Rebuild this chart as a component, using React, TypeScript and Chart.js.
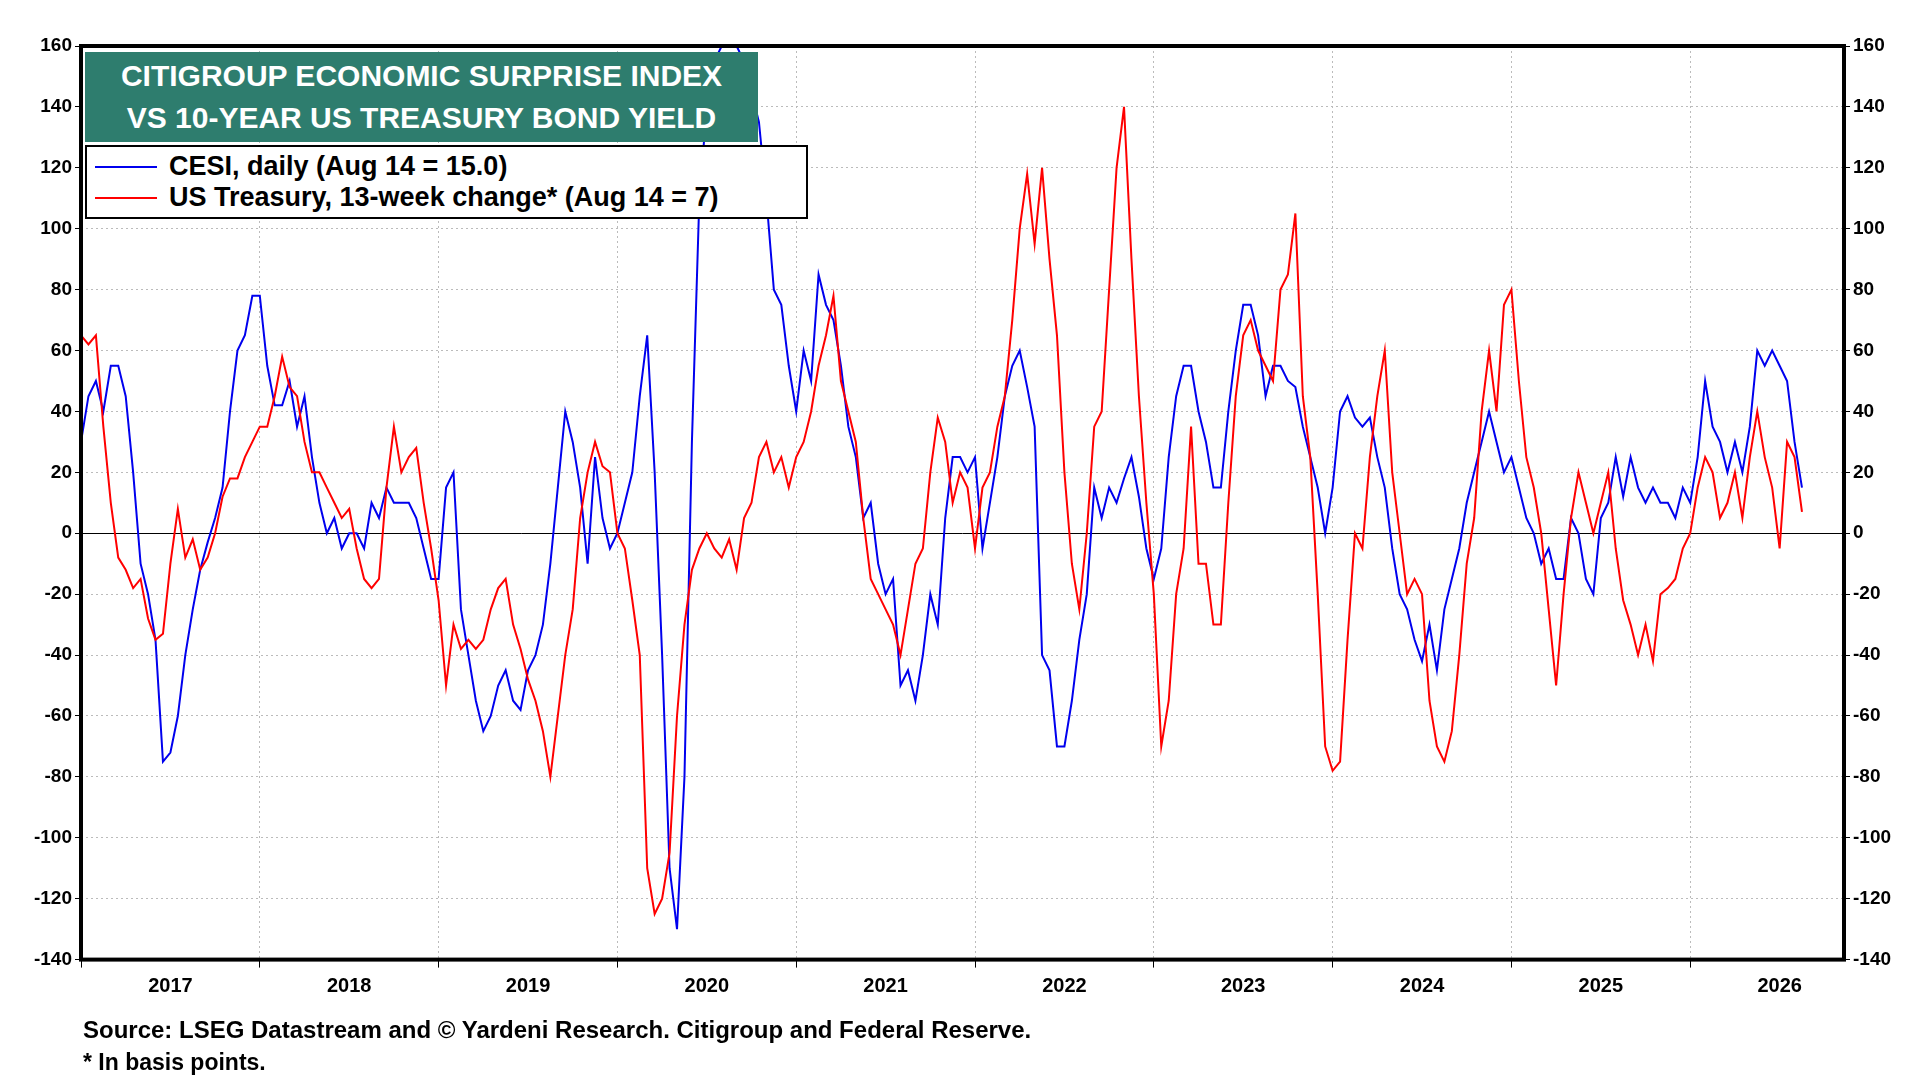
import React, { useEffect, useRef } from "react";
import { Chart, registerables } from "chart.js";
Chart.register(...registerables);

// Half-monthly observations starting Jan 2017
const START_YEAR = 2017;
const yearLabels = ["2017","2018","2019","2020","2021","2022","2023","2024","2025","2026"];
const cesi = [30,45,50,40,55,55,45,20,-10,-20,-35,-75,-72,-60,-40,-25,-12,-3,5,15,40,60,65,78,78,55,42,42,50,35,45,25,10,0,5,-5,0,0,-5,10,5,15,10,10,10,5,-5,-15,-15,15,20,-25,-40,-55,-65,-60,-50,-45,-55,-58,-45,-40,-30,-10,15,40,30,15,-10,25,5,-5,0,10,20,45,65,20,-40,-110,-130,-80,30,110,140,155,160,160,160,155,145,135,110,80,75,55,40,60,50,85,75,70,55,35,25,5,10,-10,-20,-15,-50,-45,-55,-40,-20,-30,5,25,25,20,25,-5,10,25,45,55,60,48,35,-40,-45,-70,-70,-55,-35,-20,15,5,15,10,18,25,12,-5,-15,-5,25,45,55,55,40,30,15,15,40,60,75,75,65,45,55,55,50,48,35,25,15,0,15,40,45,38,35,38,25,15,-5,-20,-25,-35,-42,-30,-45,-25,-15,-5,10,20,30,40,30,20,25,15,5,0,-10,-5,-15,-15,5,0,-15,-20,5,10,25,12,25,15,10,15,10,10,5,15,10,25,50,35,30,20,30,20,35,60,55,60,55,50,30,15];
const treasury = [65,62,65,35,10,-8,-12,-18,-15,-28,-35,-33,-10,8,-8,-2,-12,-8,0,12,18,18,25,30,35,35,45,58,48,45,30,20,20,15,10,5,8,-5,-15,-18,-15,15,35,20,25,28,10,-5,-22,-50,-30,-38,-35,-38,-35,-25,-18,-15,-30,-38,-48,-55,-65,-80,-60,-40,-25,5,20,30,22,20,0,-5,-22,-40,-110,-125,-120,-105,-60,-30,-12,-5,0,-5,-8,-2,-12,5,10,25,30,20,25,15,25,30,40,55,65,78,50,40,30,5,-15,-20,-25,-30,-40,-25,-10,-5,20,38,30,10,20,15,-5,15,20,35,45,70,100,118,95,120,90,65,20,-10,-25,0,35,40,80,120,140,90,45,10,-20,-70,-55,-20,-5,35,-10,-10,-30,-30,10,45,65,70,60,55,50,80,85,105,45,25,-20,-70,-78,-75,-35,0,-5,25,45,60,20,0,-20,-15,-20,-55,-70,-75,-65,-40,-10,5,40,60,40,75,80,50,25,15,0,-25,-50,-20,5,20,10,0,10,20,-5,-22,-30,-40,-30,-42,-20,-18,-15,-5,0,15,25,20,5,10,20,5,25,40,25,15,-5,30,25,7];

const toPts = (arr: number[]) => arr.map((v, i) => ({ x: START_YEAR + i / 24, y: v }));

export default function App() {
  const ref = useRef<HTMLCanvasElement>(null);
  useEffect(() => {
    document.body.style.margin = "0";
    const font = { family: "Arial, 'Liberation Sans'", size: 19, weight: "bold" as const };
    const yearPlugin = {
      id: "years",
      afterDraw(c: any) {
        const { ctx, chartArea, scales } = c;
        ctx.save();
        ctx.font = "bold 20px Arial, 'Liberation Sans'";
        ctx.fillStyle = "#000";
        ctx.textAlign = "center";
        ctx.textBaseline = "middle";
        yearLabels.forEach((l) => {
          const x = scales.x.getPixelForValue(Number(l) + 0.5);
          ctx.fillText(l, x, chartArea.bottom + 27);
        });
        ctx.strokeStyle = "#000";
        ctx.lineWidth = 4;
        ctx.strokeRect(chartArea.left, chartArea.top, chartArea.right - chartArea.left, chartArea.bottom - chartArea.top);
        ctx.restore();
      },
    };
    const chart = new Chart(ref.current!, {
      type: "line",
      data: {
        datasets: [
          { label: "US Treasury", data: toPts(treasury), borderColor: "#ff0000", borderWidth: 2, pointRadius: 0, tension: 0 },
          { label: "CESI", data: toPts(cesi), borderColor: "#0000ee", borderWidth: 2, pointRadius: 0, tension: 0 },
        ],
      },
      options: {
        animation: false,
        responsive: false,
        layout: { padding: { top: 46, bottom: 92, left: 4, right: 4 } },
        plugins: { legend: { display: false }, tooltip: { enabled: false } },
        scales: {
          x: {
            type: "linear", min: 2017, max: 2026.86,
            afterBuildTicks: (a: any) => { a.ticks = [2017,2018,2019,2020,2021,2022,2023,2024,2025,2026].map((v) => ({ value: v })); },
            ticks: { callback: () => "" },
            grid: { color: "#bbb", lineWidth: 1, tickLength: 8, tickColor: "#000" },
            border: { display: false, dash: [2, 3] },
          },
          y: {
            min: -140, max: 160, position: "left",
            afterFit: (a: any) => { a.width = 77; },
            ticks: { stepSize: 20, color: "#000", font },
            grid: { color: (c: any) => (c.tick.value === 0 ? "#000" : "#bbb"), tickLength: 6, tickColor: "#000" },
            border: { display: false, dash: (c: any) => (c.tick && c.tick.value === 0 ? [] : [2, 3]) },
          },
          y2: {
            min: -140, max: 160, position: "right",
            afterFit: (a: any) => { a.width = 72; },
            ticks: { stepSize: 20, color: "#000", font },
            grid: { drawOnChartArea: false, tickLength: 6, tickColor: "#000" },
            border: { display: false },
          },
        },
      },
      plugins: [yearPlugin],
    });
    return () => chart.destroy();
  }, []);

  const bold = { fontFamily: "Arial, 'Liberation Sans'", fontWeight: "bold" as const };
  return (
    <div style={{ position: "relative", width: 1920, height: 1080, background: "#fff" }}>
      <canvas ref={ref} width={1920} height={1080} style={{ display: "block" }} />
      <div style={{ ...bold, position: "absolute", left: 85, top: 52, width: 673, height: 90, background: "#2e7d6e", color: "#fff", fontSize: 30, textAlign: "center", lineHeight: "42px", paddingTop: 3, boxSizing: "border-box" }}>
        CITIGROUP ECONOMIC SURPRISE INDEX<br />VS 10-YEAR US TREASURY BOND YIELD
      </div>
      <div style={{ ...bold, position: "absolute", left: 85, top: 145, width: 723, height: 74, background: "#fff", border: "2px solid #000", boxSizing: "border-box", fontSize: 27, lineHeight: "31px", paddingTop: 4 }}>
        <div style={{ display: "flex", alignItems: "center" }}>
          <span style={{ display: "inline-block", width: 62, height: 2, background: "#0000ee", margin: "0 12px 0 8px" }} />CESI, daily (Aug 14 = 15.0)
        </div>
        <div style={{ display: "flex", alignItems: "center" }}>
          <span style={{ display: "inline-block", width: 62, height: 2, background: "#ff0000", margin: "0 12px 0 8px" }} />US Treasury, 13-week change* (Aug 14 = 7)
        </div>
      </div>
      <div style={{ ...bold, position: "absolute", left: 83, top: 1016, fontSize: 24 }}>Source: LSEG Datastream and © Yardeni Research. Citigroup and Federal Reserve.</div>
      <div style={{ ...bold, position: "absolute", left: 83, top: 1049, fontSize: 23 }}>* In basis points.</div>
    </div>
  );
}
